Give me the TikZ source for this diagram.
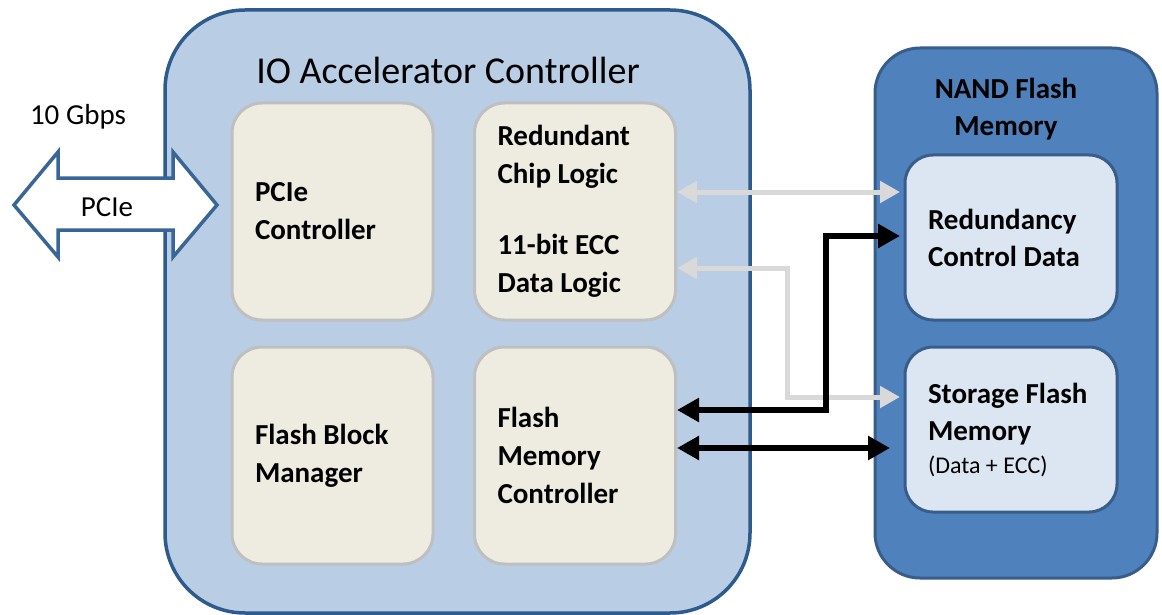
\documentclass[tikz,border=0pt]{standalone}
\usepackage{fontspec}
\setmainfont{Carlito}
\usetikzlibrary{arrows.meta}
\definecolor{ioFill}{HTML}{B9CDE5}
\definecolor{ioLine}{HTML}{2E5B8E}
\definecolor{nandFill}{HTML}{4F81BD}
\definecolor{nandLine}{HTML}{385D8A}
\definecolor{innerFill}{HTML}{DCE6F2}
\definecolor{beige}{HTML}{EEECE1}
\definecolor{beigeLine}{HTML}{BFBFBF}
\definecolor{lgray}{HTML}{D9D9D9}
\definecolor{pcieLine}{HTML}{3A6597}
\begin{document}
\begin{tikzpicture}[x=1pt,y=-1pt,
  iobox/.style={draw=ioLine, fill=ioFill, line width=3.5pt, rounded corners=80pt,
    minimum width=585pt, minimum height=603pt, inner sep=0pt},
  nandbox/.style={draw=nandLine, fill=nandFill, line width=3pt, rounded corners=45pt,
    minimum width=282pt, minimum height=530pt, inner sep=0pt},
  logicbox/.style={draw=beigeLine, fill=beige, line width=3pt, rounded corners=30pt,
    minimum width=201pt, minimum height=217pt, text width=155pt, inner xsep=23pt,
    align=flush left, font=\fontsize{29}{38}\selectfont\bfseries},
  membox/.style={draw=nandLine, fill=innerFill, line width=3pt, rounded corners=28pt,
    minimum width=212pt, minimum height=165pt, text width=166pt, inner xsep=23pt,
    align=flush left, font=\fontsize{29}{37}\selectfont\bfseries},
  grayconn/.style={draw=lgray, line width=5pt,
    {Triangle[length=20pt,width=21pt]}-{Triangle[length=20pt,width=21pt]}},
  blackconn/.style={draw=black, line width=6pt,
    {Triangle[length=22pt,width=23pt]}-{Triangle[length=22pt,width=23pt]}},
  plain/.style={inner sep=0pt, font=\fontsize{29}{37}\selectfont}
]
\useasboundingbox (0,0) rectangle (1162,615);

% outer containers
\node[iobox] (io) at (457.5,311.5) {};
\node[nandbox] (nand) at (1016,313) {};

% titles
\node[inner sep=0pt, font=\fontsize{38}{44}\selectfont] (iotitle) at (448,70) {IO Accelerator Controller};
\node[inner sep=0pt, align=center, font=\fontsize{29}{37}\selectfont\bfseries] (nandtitle) at (1006,109.5) {NAND Flash\\Memory};

% controller blocks
\node[logicbox] (pcic) at (332.5,211.5) {PCIe\\Controller};
\node[logicbox] (chip) at (575,211.5) {Redundant\\Chip Logic\\[33pt]11-bit ECC\\Data Logic};
\node[logicbox] (fbm) at (332.5,455.5) {Flash Block\\Manager};
\node[logicbox] (fmc) at (575,455.5) {Flash\\Memory\\Controller};

% memory blocks
\node[membox] (red) at (1011,237.5) {Redundancy\\Control Data};
\node[membox] (stor) at (1011,429.5) {Storage Flash\\Memory\\[-4pt]{\fontsize{24}{30}\selectfont\mdseries (Data + ECC)}};

% PCIe block arrow
\draw[draw=pcieLine, fill=white, line width=3.5pt, line join=miter]
  (14,205) -- (58,152) -- (58,178) -- (173,178) -- (173,152) -- (217,205)
  -- (173,257) -- (173,230) -- (58,230) -- (58,257) -- cycle;
\node[plain] (pcielbl) at (107,207) {PCIe};
\node[plain] (gbps) at (78,117) {10 Gbps};

% helper coordinates
\coordinate (yA) at (0,192);
\coordinate (yB) at (0,268);
\coordinate (yC) at (0,397);
\coordinate (yD) at (0,410);
\coordinate (yE) at (0,236);
\coordinate (yF) at (0,448);
\coordinate (xG) at (787,0);
\coordinate (xB) at (826,0);

% connectors
\draw[grayconn, shorten >=3.5pt] (chip.east |- yA) -- (red.west |- yA);
\draw[grayconn, shorten >=3.5pt] (chip.east |- yB) -- (xG |- yB) -- (xG |- yC) -- (stor.west |- yC);
\draw[blackconn, shorten >=3.5pt] (fmc.east |- yD) -- (xB |- yD) -- (xB |- yE) -- (red.west |- yE);
\draw[blackconn, shorten >=13.5pt] (fmc.east |- yF) -- (stor.west |- yF);
\end{tikzpicture}
\end{document}
